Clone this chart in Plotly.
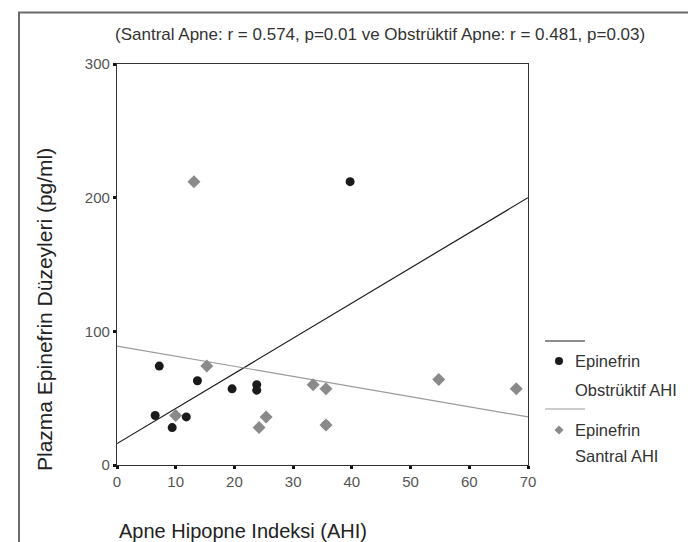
import plotly.graph_objects as go

# ---- data ----
obs_ahi = [7.2, 6.5, 9.4, 11.8, 13.7, 19.6, 23.8, 23.8, 39.7, 35.6]
obs_epi = [74, 37, 28, 36, 63, 57, 60, 56, 212, 30]
cen_ahi = [13.1, 15.3, 10.0, 24.2, 25.4, 33.4, 35.6, 54.8, 68.0, 35.6]
cen_epi = [212, 74, 37, 28, 36, 60, 57, 64, 57, 30]
fit_x = [0, 70]
obs_fit_y = [16, 200]
cen_fit_y = [89, 36]
x_ticks = [0, 10, 20, 30, 40, 50, 60, 70]
y_ticks = [0, 100, 200, 300]

title_text = "(Santral Apne: r = 0.574, p=0.01 ve Obstrüktif Apne: r = 0.481, p=0.03)"
x_title = "Apne Hipopne Indeksi (AHI)"
y_title = "Plazma Epinefrin Düzeyleri (pg/ml)"
leg_obs = ["Epinefrin", "Obstrüktif AHI"]
leg_cen = ["Epinefrin", "Santral AHI"]

BLACK = "#1a1a1a"
GREY = "#8a8a8a"
FONT = "Liberation Sans, Arial, sans-serif"

W, H = 696, 542
L, R, T, B = 109, 520, 56, 457


def px(x):
    return (x - L) / (R - L)


def py(y):
    return (B - y) / (B - T)


fig = go.Figure()
fig.add_trace(go.Scatter(x=fit_x, y=obs_fit_y, mode="lines",
                         line=dict(color=BLACK, width=1.2), showlegend=False, hoverinfo="skip"))
fig.add_trace(go.Scatter(x=fit_x, y=cen_fit_y, mode="lines",
                         line=dict(color="#9a9a9a", width=1.2), showlegend=False, hoverinfo="skip"))
fig.add_trace(go.Scatter(x=obs_ahi, y=obs_epi, mode="markers",
                         marker=dict(symbol="circle", size=9, color=BLACK),
                         showlegend=False, name="Epinefrin Obstrüktif AHI"))
fig.add_trace(go.Scatter(x=cen_ahi, y=cen_epi, mode="markers",
                         marker=dict(symbol="diamond", size=10, color=GREY),
                         showlegend=False, name="Epinefrin Santral AHI"))

axis_common = dict(showgrid=False, zeroline=False, showline=True, linecolor="#333",
                   linewidth=1.3, mirror=True, ticks="outside", ticklen=3, tickwidth=3,
                   tickcolor="#111", tickfont=dict(family=FONT, size=15, color="#555"))
fig.update_xaxes(range=[0, 70], tickvals=x_ticks, ticktext=[str(v) for v in x_ticks], **axis_common)
fig.update_yaxes(range=[0, 300], tickvals=y_ticks, ticktext=[str(v) for v in y_ticks], **axis_common)

shapes = []
# outer frame
shapes.append(dict(type="rect", xref="paper", yref="paper",
                   x0=px(11), x1=px(689), y0=py(580), y1=py(4.5),
                   line=dict(color="#6a6a6a", width=2), layer="below"))
# legend line samples
shapes.append(dict(type="line", xref="paper", yref="paper",
                   x0=px(537), x1=px(577), y0=py(333), y1=py(333),
                   line=dict(color=BLACK, width=1.2)))
shapes.append(dict(type="line", xref="paper", yref="paper",
                   x0=px(537), x1=px(577), y0=py(401), y1=py(401),
                   line=dict(color="#9a9a9a", width=1.2)))
# legend symbols
shapes.append(dict(type="circle", xref="paper", yref="paper", xsizemode="pixel", ysizemode="pixel",
                   xanchor=px(551), yanchor=py(353), x0=-4, x1=4, y0=-4, y1=4,
                   fillcolor=BLACK, line=dict(width=0)))
shapes.append(dict(type="path", xref="paper", yref="paper", xsizemode="pixel", ysizemode="pixel",
                   xanchor=px(551), yanchor=py(422), path="M -4.5 0 L 0 4.5 L 4.5 0 L 0 -4.5 Z",
                   fillcolor=GREY, line=dict(width=0)))

annotations = []
annotations.append(dict(text=title_text, xref="paper", yref="paper", x=px(372), y=py(27),
                        xanchor="center", yanchor="middle", showarrow=False,
                        font=dict(family=FONT, size=17, color="#333")))
annotations.append(dict(text=x_title, xref="paper", yref="paper", x=px(109), y=py(523),
                        xanchor="left", yanchor="middle", showarrow=False,
                        font=dict(family=FONT, size=20, color="#222")))
annotations.append(dict(text=y_title, xref="paper", yref="paper", x=px(36), y=py(302),
                        xanchor="center", yanchor="middle", showarrow=False, textangle=-90,
                        font=dict(family=FONT, size=21, color="#222")))
for txt, yy in [(leg_obs[0], 353), (leg_obs[1], 382), (leg_cen[0], 422), (leg_cen[1], 448)]:
    annotations.append(dict(text=txt, xref="paper", yref="paper", x=px(565), y=py(yy),
                            xanchor="left", yanchor="middle", showarrow=False,
                            font=dict(family=FONT, size=16.5, color="#333")))

fig.update_layout(width=W, height=H, margin=dict(l=L, r=W - R, t=T, b=H - B, pad=0),
                  paper_bgcolor="white", plot_bgcolor="white", showlegend=False,
                  shapes=shapes, annotations=annotations)

fig.write_html("out.html")
